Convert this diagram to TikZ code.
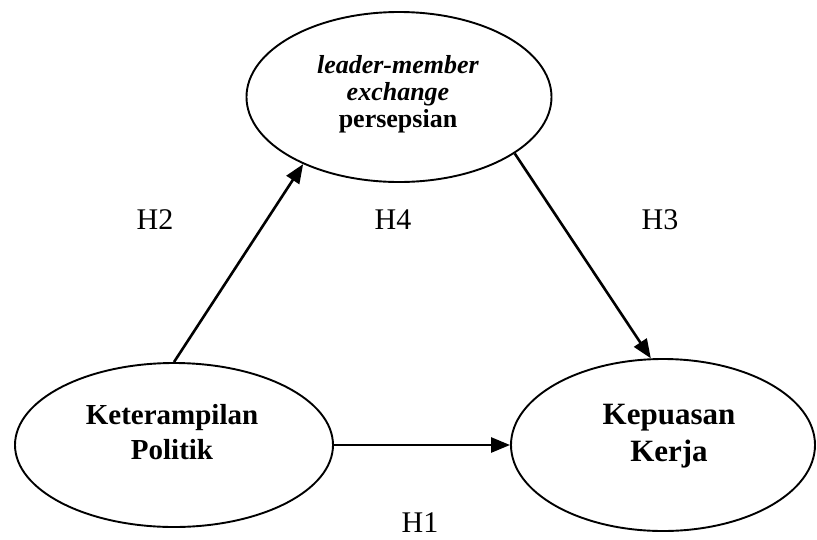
\documentclass[tikz,border=0pt]{standalone}
\usepackage{fontspec}
\setmainfont{Liberation Serif}
\usetikzlibrary{shapes.geometric,arrows.meta}
\begin{document}
\begin{tikzpicture}[x=1pt,y=-1pt,
  ell/.style={draw, ellipse, line width=1.9pt, inner sep=0pt},
  conn/.style={line width=2.6pt, -{Triangle[length=19pt,width=15pt]}},
  hlab/.style={font=\fontsize{30}{36}\selectfont, inner sep=0pt},
  toptext/.style={align=center, inner sep=0pt, font=\bfseries\fontsize{26}{27}\selectfont},
  kptext/.style={align=center, inner sep=0pt, font=\bfseries\fontsize{29}{35}\selectfont},
  kktext/.style={align=center, inner sep=0pt, font=\bfseries\fontsize{31}{37}\selectfont}]
\useasboundingbox (0,0) rectangle (817,539);
\fill[white] (0,0) rectangle (817,539);
% ellipses
\node[ell, minimum width=305pt, minimum height=170pt] (lmx) at (399,97) {};
\node[ell, minimum width=318pt, minimum height=164pt] (kp) at (174,445) {};
\node[ell, minimum width=304pt, minimum height=172pt] (kk) at (663,445) {};
% texts
\node[toptext] (lmxt) at (398,94) {\textit{leader-member}\\\textit{exchange}\\persepsian};
\node[kptext] (kpt) at (172,432) {Keterampilan\\Politik};
\node[kktext] (kkt) at (669,436) {Kepuasan\\Kerja};
% labels
\node[hlab] (h2) at (155,220) {H2};
\node[hlab] (h4) at (393,220) {H4};
\node[hlab] (h3) at (660,220) {H3};
\node[hlab] (h1) at (420,523) {H1};
% connectors
\draw[conn] (kp.north) -- (lmx.215.6);
\draw[conn] (lmx.-26.4) -- (kk.98);
\draw[conn] (kp.east) -- (kk.west);
\end{tikzpicture}
\end{document}
